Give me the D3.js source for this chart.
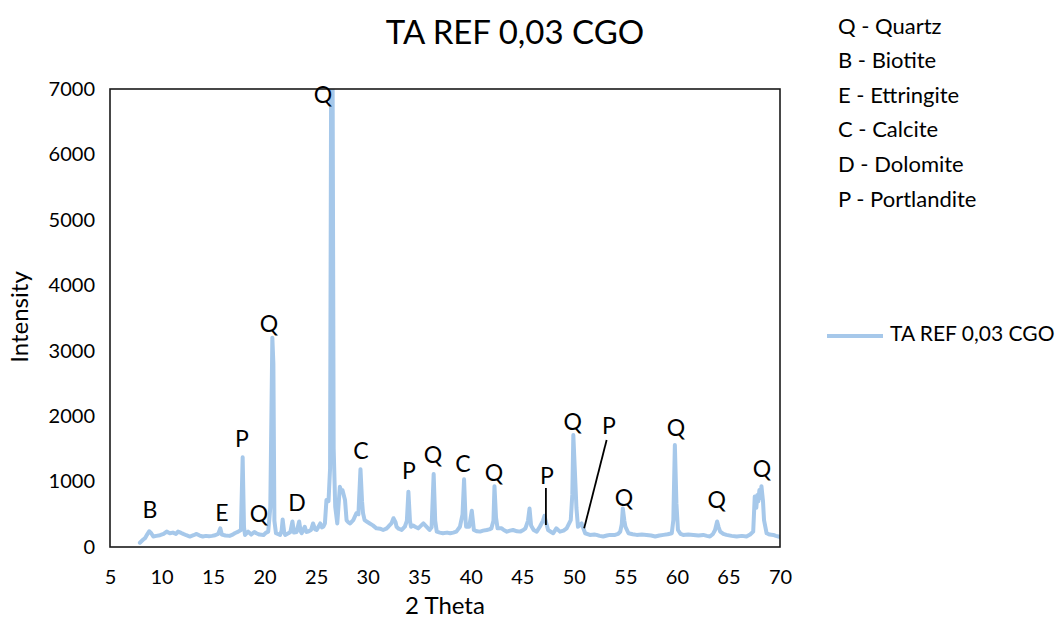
<!DOCTYPE html>
<html>
<head>
<meta charset="utf-8">
<script src="https://cdn.jsdelivr.net/npm/d3@7"></script>
<style>
  html, body { margin: 0; padding: 0; background: #fff; }
  svg { display: block; }
  text { font-family: Lato, "Open Sans", sans-serif; fill: #000; }
</style>
</head>
<body>
<svg id="chart" width="1064" height="625"></svg>
<script>
// Diffraction pattern: 2θ positions (degrees) and measured intensity (counts)
const twoTheta = [
  7.9, 8.2, 8.4, 8.6, 8.8, 9.0, 9.2, 9.5, 9.85, 10.2, 10.5, 10.8, 11.1, 11.4, 11.6, 11.9,
  12.1, 12.4, 12.75, 13.1, 13.4, 13.7, 14.0, 14.3, 14.6, 14.9, 15.2, 15.5, 15.7, 15.85,
  16.2, 16.6, 16.9, 17.1, 17.45, 17.7, 17.87, 18.0, 18.1, 18.4, 18.7, 19.0, 19.2, 19.5,
  19.9, 20.15, 20.35, 20.55, 20.75, 20.85, 20.95, 21.1, 21.5, 21.65, 21.75, 21.9, 22.0,
  22.3, 22.5, 22.7, 22.85, 23.1, 23.35, 23.5, 23.6, 23.9, 24.05, 24.2, 24.5, 24.7, 24.9,
  25.05, 25.4, 25.55, 25.7, 25.85, 26.0, 26.2, 26.35, 26.45, 26.6, 26.7, 26.85, 27.05,
  27.2, 27.3, 27.45, 27.55, 27.7, 27.8, 27.95, 28.1, 28.3, 28.6, 28.9, 29.1, 29.3, 29.45,
  29.55, 29.7, 29.9, 30.2, 30.5, 30.85, 31.2, 31.5, 31.8, 32.0, 32.3, 32.5, 32.7, 32.8,
  33.0, 33.3, 33.6, 33.8, 33.95, 34.1, 34.2, 34.4, 34.6, 34.9, 35.2, 35.4, 35.7, 36.0,
  36.2, 36.4, 36.55, 36.7, 37.0, 37.3, 37.7, 38.0, 38.3, 38.6, 38.95, 39.2, 39.35, 39.5,
  39.55, 39.85, 40.1, 40.3, 40.6, 40.9, 41.2, 41.55, 41.8, 42.0, 42.2, 42.3, 42.45, 42.6,
  43.0, 43.2, 43.5, 43.8, 44.1, 44.5, 44.8, 45.1, 45.3, 45.55, 45.7, 45.85, 46.1, 46.4,
  46.7, 47.0, 47.15, 47.3, 47.5, 47.8, 48.0, 48.3, 48.65, 49.0, 49.3, 49.7, 49.85, 49.95,
  50.15, 50.25, 50.4, 50.75, 51.1, 51.55, 52.0, 52.2, 52.5, 52.85, 53.2, 53.5, 54.0, 54.3,
  54.5, 54.65, 54.75, 54.9, 55.0, 55.3, 55.7, 56.1, 56.6, 57.05, 57.5, 57.9, 58.3, 58.7,
  59.1, 59.5, 59.65, 59.8, 59.95, 60.1, 60.35, 60.6, 61.1, 61.6, 62.1, 62.55, 62.9, 63.2,
  63.5, 63.7, 63.9, 64.05, 64.2, 64.5, 64.8, 65.3, 65.8, 66.3, 66.75, 67.1, 67.4, 67.55,
  67.7, 67.8, 67.9, 68.0, 68.1, 68.2, 68.35, 68.45, 68.7, 69.0, 69.35, 69.6, 69.85, 70.0
];
const intensity = [
  65, 110, 135, 190, 240, 210, 160, 170, 180, 200, 235, 210, 220, 200, 235, 215,
  200, 180, 160, 180, 200, 175, 160, 170, 165, 170, 180, 200, 285, 190,
  175, 170, 190, 210, 235, 260, 1370, 300, 185, 235, 190, 230, 210, 190,
  185, 220, 235, 600, 3200, 2800, 400, 210, 185, 250, 420, 220, 185,
  210, 230, 390, 220, 230, 390, 240, 210, 310, 230, 235, 260, 360, 270,
  260, 360, 300, 310, 360, 720, 700, 1200, 7000, 7000, 1500, 615, 360,
  700, 920, 850, 870, 780, 720, 410, 380, 360, 410, 515, 500, 1190, 700,
  515, 410, 390, 360, 330, 285, 280, 260, 280, 310, 360, 440, 380, 310,
  280, 260, 310, 400, 845, 400, 310, 330, 310, 285, 330, 360, 310, 260,
  300, 1115, 400, 235, 220, 210, 220, 210, 220, 235, 310, 500, 1035, 400,
  310, 310, 555, 260, 240, 235, 250, 260, 270, 285, 400, 930, 450, 285,
  285, 260, 235, 250, 260, 240, 235, 260, 285, 400, 590, 330, 260, 235,
  310, 400, 475, 380, 260, 230, 210, 285, 235, 250, 285, 410, 800, 1710,
  975, 600, 310, 360, 210, 185, 190, 185, 170, 160, 175, 185, 185, 200,
  235, 350, 590, 400, 310, 210, 195, 185, 190, 185, 175, 160, 175, 185,
  195, 210, 410, 1560, 670, 260, 200, 185, 190, 185, 175, 185, 170, 160,
  200, 260, 390, 300, 235, 200, 185, 170, 160, 170, 160, 190, 235, 770,
  600, 795, 700, 870, 750, 930, 700, 410, 210, 190, 185, 170, 160, 150
];

// Axis ticks
const xTicks = [5, 10, 15, 20, 25, 30, 35, 40, 45, 50, 55, 60, 65, 70];
const yTicks = [0, 1000, 2000, 3000, 4000, 5000, 6000, 7000];

// Phase labels placed over the peaks (2θ, intensity)
const peakLabels = ["B", "E", "P", "Q", "D", "Q", "Q", "C", "P", "Q", "C", "Q", "P", "Q", "P", "Q", "Q", "Q", "Q"];
const peakLabelX = [8.88, 15.86, 17.8, 19.45, 23.14, 20.42, 25.66, 29.35, 34.0, 36.33, 39.24, 42.25, 47.39, 49.9, 53.4, 59.9, 54.85, 63.87, 68.24];
const peakLabelY = [535, 489, 1620, 474, 642, 3378, 6878, 1437, 1131, 1376, 1238, 1100, 1055, 1880, 1819, 1788, 718, 688, 1162];

// Leader lines for two labels: [x1, y1, x2, y2] in data units
const leaderLines = [
  [47.29, 902, 47.29, 336],
  [53.18, 1635, 51.0, 286]
];

// Phase key
const phaseKey = ["Q - Quartz", "B - Biotite", "E - Ettringite", "C - Calcite", "D - Dolomite", "P - Portlandite"];

const seriesName = "TA REF 0,03 CGO";
const chartTitle = "TA REF 0,03 CGO";

const svg = d3.select("#chart");
const plot = { left: 110, right: 780, top: 89, bottom: 547 };

const x = d3.scaleLinear().domain([5, 70]).range([plot.left, plot.right]);
const y = d3.scaleLinear().domain([0, 7000]).range([plot.bottom, plot.top]);

const lineColor = "#a6c8ea";

// Title
svg.append("text")
  .attr("x", 515).attr("y", 36)
  .attr("text-anchor", "middle").attr("dominant-baseline", "middle")
  .style("font-size", "33px")
  .text(chartTitle);

// Clip region for the pattern
svg.append("clipPath").attr("id", "plotClip")
  .append("rect")
  .attr("x", plot.left).attr("y", plot.top)
  .attr("width", plot.right - plot.left).attr("height", plot.bottom - plot.top);

// Pattern line
const pts = twoTheta.map((t, i) => [t, intensity[i]]);
svg.append("path")
  .datum(pts)
  .attr("clip-path", "url(#plotClip)")
  .attr("fill", "none")
  .attr("stroke", lineColor)
  .attr("stroke-width", 4)
  .attr("stroke-linejoin", "round")
  .attr("stroke-linecap", "round")
  .attr("d", d3.line().x(d => x(d[0])).y(d => y(d[1])));

// Plot frame
svg.append("rect")
  .attr("x", plot.left).attr("y", plot.top)
  .attr("width", plot.right - plot.left).attr("height", plot.bottom - plot.top)
  .attr("fill", "none").attr("stroke", "#1a1a1a").attr("stroke-width", 1.6);

// Axes (labels only, no tick marks)
const xAxis = svg.append("g")
  .attr("transform", `translate(0,${plot.bottom})`)
  .call(d3.axisBottom(x).tickValues(xTicks).tickSize(0).tickPadding(23).tickFormat(d3.format("d")));
xAxis.select(".domain").remove();
xAxis.selectAll("text").style("font-size", "20px").style("font-family", "Lato, sans-serif").attr("fill", "#000");

const yAxis = svg.append("g")
  .attr("transform", `translate(${plot.left},0)`)
  .call(d3.axisLeft(y).tickValues(yTicks).tickSize(0).tickPadding(15).tickFormat(d3.format("d")));
yAxis.select(".domain").remove();
yAxis.selectAll("text").style("font-size", "20px").style("font-family", "Lato, sans-serif").attr("fill", "#000");

// Axis titles
svg.append("text")
  .attr("x", 445).attr("y", 608)
  .attr("text-anchor", "middle").attr("dominant-baseline", "middle")
  .style("font-size", "24px")
  .text("2 Theta");

svg.append("text")
  .attr("transform", "translate(22,317) rotate(-90)")
  .attr("text-anchor", "middle").attr("dominant-baseline", "middle")
  .style("font-size", "24px")
  .text("Intensity");

// Peak labels
svg.append("g").selectAll("text")
  .data(peakLabels)
  .join("text")
  .attr("x", (d, i) => x(peakLabelX[i]))
  .attr("y", (d, i) => y(peakLabelY[i]))
  .attr("text-anchor", "middle").attr("dominant-baseline", "middle")
  .style("font-size", "23px")
  .text(d => d);

svg.append("g").selectAll("line")
  .data(leaderLines)
  .join("line")
  .attr("x1", d => x(d[0])).attr("y1", d => y(d[1]))
  .attr("x2", d => x(d[2])).attr("y2", d => y(d[3]))
  .attr("stroke", "#000").attr("stroke-width", 1.8);

// Phase key (top right)
svg.append("g").selectAll("text")
  .data(phaseKey)
  .join("text")
  .attr("x", 838)
  .attr("y", (d, i) => 28 + i * 34.6)
  .attr("dominant-baseline", "middle")
  .style("font-size", "22px")
  .text(d => d);

// Series legend
svg.append("line")
  .attr("x1", 827).attr("x2", 883).attr("y1", 336).attr("y2", 336)
  .attr("stroke", lineColor).attr("stroke-width", 4);
svg.append("text")
  .attr("x", 890).attr("y", 336)
  .attr("dominant-baseline", "middle")
  .style("font-size", "21px")
  .text(seriesName);
</script>
</body>
</html>
